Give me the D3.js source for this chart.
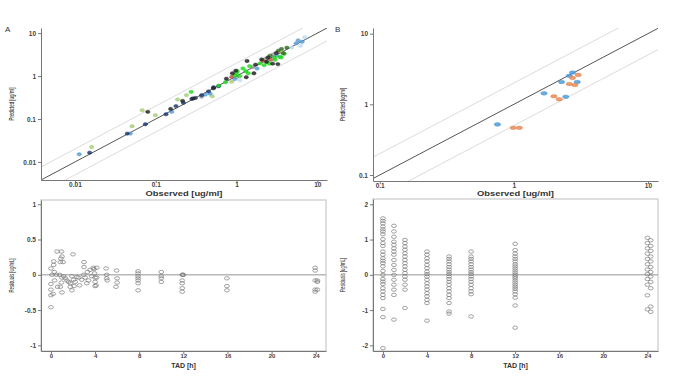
<!DOCTYPE html>
<html><head><meta charset="utf-8">
<script src="https://cdn.jsdelivr.net/npm/d3@7"></script>
<style>body{margin:0;background:#fff}svg{display:block}text{font-family:"Liberation Sans",Arial,sans-serif}</style>
</head><body>
<script>
// ---------- DATA ----------
// Panel A: [observed, predicted] pairs by color group
const aNavy=[[0.0152,0.0165],[0.0444,0.0458],[0.0745,0.0757],[0.134,0.129],[0.178,0.2],[0.22,0.238],[0.28,0.295],[0.31,0.31],[0.37,0.36],[0.45,0.44],[0.52,0.55],[0.6,0.58]];
const aLightBlue=[[0.0113,0.0151],[0.0485,0.0458],[0.158,0.147],[0.41,0.37],[0.47,0.39],[0.95,0.85],[1.8,1.5],[3.15,3.0],[5.47,5.8],[5.8,6.8],[6.5,6.3]];
const aPaleBlue=[[7.0,8.0],[6.2,5.1],[4.8,4.6],[1.1,0.8]];
const aGreen=[[0.274,0.43],[0.6,0.6],[0.73,0.72],[0.95,1.03],[1.0,1.15],[1.02,1.3],[1.1,1.0],[1.2,1.51],[1.3,1.3],[1.4,1.16],[1.45,1.71],[1.95,1.98],[2.2,1.8],[2.4,2.1],[2.55,1.95],[2.95,2.7],[3.0,2.4],[3.45,2.8],[3.57,2.73],[3.9,3.3]];
const aLightGreen=[[0.0161,0.0223],[0.051,0.068],[0.068,0.16],[0.099,0.123],[0.186,0.285],[0.24,0.36],[0.5,0.34],[0.87,0.74],[3.7,3.5]];
const aBlack=[[0.0798,0.147],[0.153,0.172],[0.215,0.265],[0.29,0.3],[0.52,0.52],[0.75,0.87],[0.89,1.16],[0.98,1.34],[1.32,0.94],[1.35,2.25],[1.64,1.16],[1.72,1.85],[2.05,2.45],[2.35,2.15],[2.45,2.7],[2.8,1.95],[3.1,3.45],[3.25,1.9]];
const aDarkGreen=[[2.6,3.0],[3.3,3.9],[3.6,4.3],[3.8,3.4],[4.2,4.6]];
const aGrey=[[0.37,0.33],[1.0,0.94],[1.6,1.63],[2.3,2.55],[2.85,3.2]];
const aRed=[[0.87,0.96],[2.1,2.28],[2.65,2.4]];
// Panel B
const bBlue=[[0.755,0.52],[1.68,1.43],[2.44,1.28],[2.27,2.07],[2.59,2.53],[2.74,2.82],[2.97,2.07]];
const bOrange=[[0.99,0.465],[1.10,0.465],[1.99,1.30],[2.18,1.18],[2.59,1.94],[2.85,1.88],[2.74,2.37],[3.02,2.61]];
// Panel C residuals: [TAD, residual]
const cResid=[[0,-0.46],[0,0.09],[0.1,0],[0,-0.13],[0,-0.21],[0,-0.29],[0.2,-0.27],[0.25,0.19],[0.25,0.14],[0.3,0.04],[0.33,-0.08],[0.5,0],[0.55,0.33],[0.6,-0.17],[0.8,0],[0.85,-0.17],[0.95,0.33],[0.85,0.18],[0.9,0.23],[1.0,0.26],[1.1,0.18],[1.0,-0.04],[0.95,-0.11],[1.0,-0.25],[1.15,-0.02],[1.3,-0.05],[1.45,-0.08],[1.6,-0.1],[1.75,-0.12],[1.75,-0.17],[1.9,-0.22],[2.0,0.29],[1.9,-0.02],[2.05,-0.07],[2.2,-0.1],[2.1,-0.16],[2.35,-0.03],[2.5,-0.04],[2.6,-0.15],[2.8,-0.07],[2.95,0],[3.0,0.18],[3.0,0.11],[3.1,-0.04],[3.25,-0.12],[3.3,0.04],[3.4,-0.08],[3.55,0.07],[3.7,-0.02],[3.85,0.1],[3.95,0.02],[4.0,-0.04],[4.0,-0.1],[4.0,-0.16],[3.9,0.08],[4.15,0.1],[4.15,-0.04],[4.1,-0.15],[5.0,0.09],[5.05,0],[5.05,-0.05],[5.1,-0.08],[5.95,0.06],[6.0,-0.05],[6.0,-0.11],[5.9,-0.17],[7.9,0.05],[7.9,0.02],[7.9,-0.02],[7.9,-0.05],[7.9,-0.08],[7.9,-0.12],[7.9,-0.22],[10,0.04],[10,-0.02],[10,-0.05],[10,-0.1],[11.9,0],[11.95,0],[12,0],[11.9,-0.08],[11.9,-0.12],[11.9,-0.19],[11.9,-0.24],[15.95,-0.05],[15.95,-0.16],[15.95,-0.22],[23.95,0.1],[23.95,0.06],[23.95,-0.08],[24.15,-0.1],[23.95,-0.21],[23.95,-0.24],[24.15,-0.21],[24.15,-0.08]];
// Panel D residuals by TAD column
const dTimes=[0,1,2,4,6,8,12,24];
const dValues=[
 [1.6,1.53,1.46,1.37,1.29,1.23,1.15,1.01,0.9,0.82,0.66,0.57,0.47,0.4,0.33,0.24,0.11,0,-0.12,-0.19,-0.26,-0.38,-0.47,-0.57,-0.66,-0.97,-1.2,-2.08],
 [1.39,1.23,1.08,0.94,0.85,0.75,0.66,0.57,0.42,0.28,0.14,0,-0.14,-0.28,-0.42,-0.57,-1.27],
 [0.99,0.9,0.8,0.71,0.61,0.52,0.42,0.33,0.24,0.14,0.05,-0.05,-0.14,-0.28,-0.42,-0.94],
 [0.66,0.57,0.47,0.38,0.28,0.19,0.09,0.02,-0.05,-0.14,-0.24,-0.33,-0.42,-0.52,-0.61,-0.71,-0.8,-1.3],
 [0.52,0.45,0.38,0.3,0.22,0.15,0.08,0.02,-0.05,-0.12,-0.2,-0.28,-0.38,-0.47,-0.57,-0.66,-0.8,-1.04,-1.1],
 [0.66,0.52,0.45,0.38,0.3,0.22,0.15,0.08,0.02,-0.05,-0.12,-0.2,-0.28,-0.38,-0.47,-0.55,-1.18],
 [0.88,0.7,0.6,0.52,0.45,0.38,0.3,0.24,0.18,0.12,0.06,0,-0.05,-0.1,-0.16,-0.22,-0.28,-0.34,-0.4,-0.47,-0.55,-0.65,-0.87,-1.5],
 [1.05,0.98,0.9,0.82,0.75,0.68,0.6,0.52,0.45,0.38,0.3,0.22,0.15,0.08,0.02,-0.05,-0.12,-0.2,-0.28,-0.38,-0.58,-0.9,-0.98,-1.05]
];
const logTicksA=[0.01,0.1,1,10];
const logTicksB=[0.1,1,10];
const tadTicks=[0,4,8,12,16,20,24];
const residTicksC=[-1,-0.5,0,0.5,1];
const residTicksD=[-2,-1,0,1,2];

// ---------- DRAW ----------
const W=678,H=378;
const svg=d3.select("body").append("svg").attr("width",W).attr("height",H);
const axisCol="#777", tickTxt="#444";

function styleAxis(g,fs){
  g.selectAll("path.domain").attr("stroke",axisCol).attr("stroke-width",1);
  g.selectAll(".tick line").attr("stroke",axisCol);
  g.selectAll(".tick text").attr("fill",tickTxt).style("font-size",(fs||7)+"px").style("font-weight","bold").style("font-family","Liberation Sans, Arial, sans-serif");
}
function fmtLog(d){return d>=1?d3.format("d")(d):String(d);}

function scatterPanel(opt){
  const x=d3.scaleLog().domain(opt.xd).range([opt.x0,opt.x1]);
  const y=d3.scaleLog().domain(opt.yd).range([opt.y1,opt.y0]);
  const id="clip"+opt.name;
  svg.append("clipPath").attr("id",id).append("rect").attr("x",opt.x0).attr("y",opt.y0).attr("width",opt.x1-opt.x0).attr("height",opt.y1-opt.y0);
  const g=svg.append("g").attr("clip-path","url(#"+id+")");
  const lo=Math.min(opt.xd[0],opt.yd[0])/3, hi=Math.max(opt.xd[1],opt.yd[1])*3;
  [[2,"#d2d2d2",0.8],[0.5,"#d2d2d2",0.8],[1,"#555",1]].forEach(([f,c,w])=>{
    g.append("line").attr("x1",x(lo)).attr("y1",y(lo*f)).attr("x2",x(hi)).attr("y2",y(hi*f)).attr("stroke",c).attr("stroke-width",w);
  });
  opt.series.forEach(s=>{
    g.selectAll(null).data(s.data).enter().append("ellipse")
      .attr("cx",d=>x(d[0])).attr("cy",d=>y(d[1])).attr("rx",s.rx||2.2).attr("ry",s.ry||1.7)
      .attr("fill",s.color).attr("fill-opacity",0.85).attr("stroke",d3.color(s.color).darker(0.3)).attr("stroke-width",0.4);
  });
  const gx=svg.append("g").attr("transform",`translate(0,${opt.y1})`).call(d3.axisBottom(x).tickValues(opt.ticks).tickFormat(fmtLog).tickSize(3).tickSizeOuter(0));
  styleAxis(gx,6.5);
  gx.selectAll(".tick text").attr("y",2);
  const gy=svg.append("g").attr("transform",`translate(${opt.x0},0)`).call(d3.axisLeft(y).tickValues(opt.ticks).tickFormat(fmtLog).tickSize(3).tickSizeOuter(0));
  styleAxis(gy,6.5);
  gy.selectAll(".tick text").attr("x",-5);
  svg.append("text").attr("x",(opt.x0+opt.x1)/2).attr("y",195.5).attr("text-anchor","middle")
    .style("font-size","7px").style("font-weight","bold").attr("fill","#333").attr("textLength",77).attr("lengthAdjust","spacingAndGlyphs").text("Observed [ug/ml]");
  svg.append("text").attr("transform",`translate(${opt.labX},${(opt.y0+opt.y1)/2}) rotate(-90)`).attr("text-anchor","middle")
    .style("font-size","8px").attr("fill","#222").attr("textLength",33).attr("lengthAdjust","spacingAndGlyphs").text("Predicted [ug/ml]");
  svg.append("text").attr("x",opt.tagX).attr("y",32).style("font-size","8px").attr("fill","#333").text(opt.tag);
}

scatterPanel({name:"A",tag:"A",tagX:5,labX:14,x0:41,x1:327,y0:28,y1:180,xd:[Math.pow(10,-2.42),Math.pow(10,1.12)],yd:[Math.pow(10,-2.42),Math.pow(10,1.12)],ticks:logTicksA,
  series:[{data:aGrey,color:"#a0a0a0"},{data:aPaleBlue,color:"#c4e2f6"},{data:aLightGreen,color:"#a9d47a"},{data:aLightBlue,color:"#5aa2dc"},{data:aNavy,color:"#1f3c72"},{data:aRed,color:"#d0504a"},{data:aGreen,color:"#22dd22"},{data:aDarkGreen,color:"#356e22"},{data:aBlack,color:"#262626"}]});
scatterPanel({name:"B",tag:"B",tagX:335,labX:345,x0:373,x1:658,y0:28,y1:181,xd:[Math.pow(10,-1.05),Math.pow(10,1.075)],yd:[Math.pow(10,-1.085),Math.pow(10,1.08)],ticks:logTicksB,
  series:[{data:bBlue,color:"#4b9ddc",rx:3.2,ry:1.8},{data:bOrange,color:"#ec8a54",rx:3.2,ry:1.8}]});

function residPanel(opt){
  const x=d3.scaleLinear().domain(opt.xd).range([opt.x0,opt.x1]);
  const y=d3.scaleLinear().domain(opt.yd).range([opt.y1,opt.y0]);
  svg.append("rect").attr("x",opt.x0).attr("y",opt.y0).attr("width",opt.x1-opt.x0).attr("height",opt.y1-opt.y0).attr("fill","none").attr("stroke","#d4d4d4").attr("stroke-width",1.5);
  svg.append("line").attr("x1",opt.x0).attr("x2",opt.x1).attr("y1",y(0)).attr("y2",y(0)).attr("stroke","#b8b8b8").attr("stroke-width",1.5);
  svg.append("g").selectAll(null).data(opt.data).enter().append("ellipse")
    .attr("cx",d=>x(d[0])).attr("cy",d=>y(d[1])).attr("rx",2.4).attr("ry",1.7)
    .attr("fill","none").attr("stroke","#7a7a7a").attr("stroke-width",0.7);
  const gx=svg.append("g").attr("transform",`translate(0,${opt.y1})`).call(d3.axisBottom(x).tickValues(tadTicks).tickSize(3).tickSizeOuter(0));
  styleAxis(gx,6);
  gx.selectAll(".tick text").attr("y",2.5);
  const gy=svg.append("g").attr("transform",`translate(${opt.x0},0)`).call(d3.axisLeft(y).tickValues(opt.ticks).tickFormat(d=>String(d)).tickSize(3).tickSizeOuter(0));
  styleAxis(gy,6.5);
  gy.selectAll(".tick text").attr("x",-5);
  svg.append("text").attr("x",(opt.x0+opt.x1)/2).attr("y",opt.y1+17).attr("text-anchor","middle")
    .style("font-size","7px").style("font-weight","bold").attr("fill","#333").text("TAD [h]");
  svg.append("text").attr("transform",`translate(${opt.labX},${(opt.y0+opt.y1)/2}) rotate(-90)`).attr("text-anchor","middle")
    .style("font-size","8px").attr("fill","#222").attr("textLength",34).attr("lengthAdjust","spacingAndGlyphs").text("Residuals [ug/mL]");
}
residPanel({x0:41,x1:326,y0:200,y1:351,xd:[-0.9,24.93],yd:[-1.08,1.06],ticks:residTicksC,labX:14,data:cResid});
const dData=[];
dTimes.forEach((t,i)=>dValues[i].forEach((v,j)=>dData.push([t+(t===24&&j%2?0.3:0),v])));
residPanel({x0:373,x1:658,y0:199,y1:351,xd:[-0.9,24.96],yd:[-2.16,2.15],ticks:residTicksD,labX:345,data:dData});
</script>
</body></html>
